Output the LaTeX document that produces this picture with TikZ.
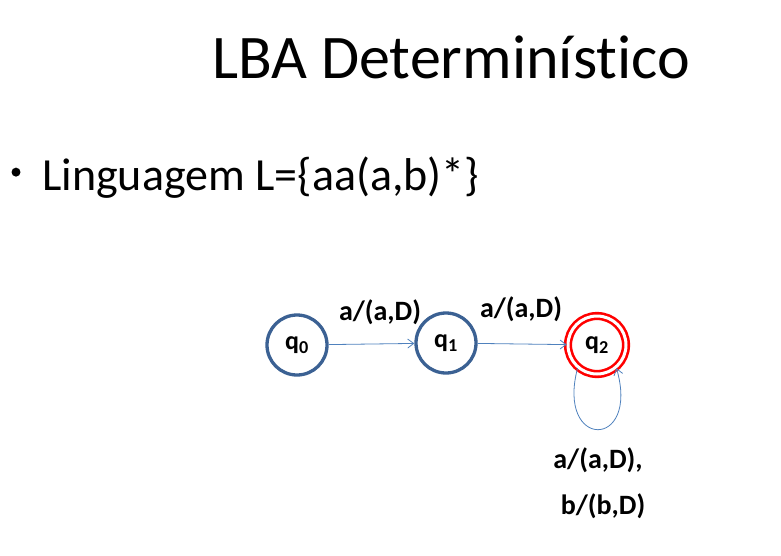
\documentclass[tikz,border=0pt]{standalone}
\usepackage{fontspec}
\setmainfont{Carlito}[Ligatures=CommonOff]
\usetikzlibrary{arrows.meta}
\definecolor{stateblue}{HTML}{3B6193}
\definecolor{edgeblue}{HTML}{4F81BD}
\tikzset{
  state/.style={circle, draw=stateblue, line width=3.3pt, minimum size=60pt, inner sep=0pt, font=\fontsize{26}{30}\selectfont\bfseries},
  accept/.style={circle, draw=red, line width=2.6pt, minimum size=58pt, double=white, double distance=3pt, inner sep=0pt, font=\fontsize{26}{30}\selectfont\bfseries},
  edge/.style={draw=edgeblue, line width=0.8pt, -{Straight Barb[length=6pt,width=9pt]}},
  lbl/.style={font=\fontsize{28}{32}\selectfont\bfseries, inner sep=0pt}
}
\begin{document}
\begin{tikzpicture}[x=1pt,y=-1pt]
  \useasboundingbox (0,0) rectangle (781,555);

  \node[font=\fontsize{62}{72}\selectfont, anchor=base] (title) at (451,78) {LBA Determinístico};
  \node[font=\fontsize{46}{54}\selectfont, anchor=base west, inner sep=0pt] (lang) at (42,190) {Linguagem L=\{aa(a,b)*\}};
  \fill (lang.west) ++(-26,-5) circle (4.5pt);

  \node[state] (q0) at (297,345) {q$_{\mathbf 0}$};
  \node[state] (q1) at (446,343) {q$_{\mathbf 1}$};
  \node[accept] (q2) at (597,345) {q$_{\mathbf 2}$};

  \draw[edge] (q0) -- (q1);
  \draw[edge] (q1) -- (q2);
  \draw[edge] (q2.230) .. controls (556,450) and (640,450) .. (q2.310);

  \node[lbl] (l01) at (380,312) {a/(a,D)};
  \node[lbl] (l12) at (521,309) {a/(a,D)};
  \node[lbl] (l22a) at (598,460) {a/(a,D),};
  \node[lbl] (l22b) at (603,506) {b/(b,D)};
\end{tikzpicture}
\end{document}
